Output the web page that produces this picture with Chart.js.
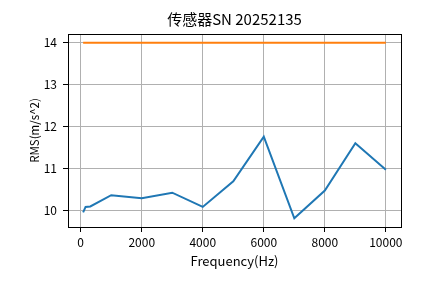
<!DOCTYPE html>
<html>
<head>
<meta charset="utf-8">
<script src="https://cdn.jsdelivr.net/npm/chart.js@4"></script>
<style>
  html, body { margin: 0; padding: 0; background: #fff; }
  #wrap { width: 445px; height: 283px; }
</style>
</head>
<body>
<div id="wrap"><canvas id="chart"></canvas></div>
<script>
const title = '传感器SN 20252135';
const xLabel = 'Frequency(Hz)';
const yLabel = 'RMS(m/s^2)';

const frequency = [80, 160, 315, 1000, 2000, 3000, 4000, 5000, 6000, 7000, 8000, 9000, 10000];
const rms = [9.95, 10.08, 10.09, 10.36, 10.29, 10.42, 10.08, 10.69, 11.76, 9.81, 10.47, 11.60, 10.97];
const limitFrequency = [80, 10000];
const limitValue = [14, 14];

const xTicks = [0, 2000, 4000, 6000, 8000, 10000];
const yTicks = [10, 11, 12, 13, 14];

const font = 'Noto Sans CJK SC';

// matplotlib-like 5% margins
const pad = (lo, hi) => [lo - (hi - lo) * 0.05, hi + (hi - lo) * 0.05];
const allX = frequency.concat(limitFrequency);
const allY = rms.concat(limitValue);
const [xMin, xMax] = pad(Math.min(...allX), Math.max(...allX));
const [yMin, yMax] = pad(Math.min(...allY), Math.max(...allY));

const frameBox = {
    id: 'frameBox',
    afterDraw(chart) {
        const { ctx, chartArea: a } = chart;
        ctx.save();
        ctx.strokeStyle = '#000';
        ctx.lineWidth = 1;
        ctx.strokeRect(Math.round(a.left) + 0.5, Math.round(a.top) + 0.5,
            Math.round(a.right - a.left), Math.round(a.bottom - a.top));
        ctx.restore();
    }
};

new Chart(document.getElementById('chart'), {
    type: 'scatter',
    data: {
        datasets: [{
            data: frequency.map((f, i) => ({ x: f, y: rms[i] })),
            showLine: true,
            borderColor: '#1f77b4',
            borderWidth: 2,
            pointRadius: 0,
            order: 2
        }, {
            data: limitFrequency.map((f, i) => ({ x: f, y: limitValue[i] })),
            showLine: true,
            borderColor: '#ff7f0e',
            borderWidth: 2,
            pointRadius: 0,
            order: 1
        }]
    },
    options: {
        responsive: true,
        maintainAspectRatio: false,
        animation: false,
        layout: { padding: { left: 0, right: 44, top: 0, bottom: 0 } },
        plugins: {
            legend: { display: false },
            tooltip: { enabled: false },
            title: {
                display: true,
                fullSize: false,
                text: title,
                color: '#000',
                font: { family: font, size: 15, weight: 'normal' },
                padding: { top: 10, bottom: 6 }
            }
        },
        scales: {
            x: {
                type: 'linear',
                min: xMin,
                max: xMax,
                afterBuildTicks: s => { s.ticks = xTicks.map(v => ({ value: v })); },
                afterFit: s => { s.height = 56; },
                grid: { color: '#b0b0b0', tickColor: '#000', tickLength: 5, lineWidth: 1 },
                border: { color: '#000' },
                ticks: {
                    color: '#000', font: { family: font, size: 12 }, padding: 3, maxRotation: 0,
                    callback: v => String(v)
                },
                title: {
                    display: true, text: xLabel, color: '#000',
                    font: { family: font, size: 13 }, padding: { top: 0, bottom: 14 }
                }
            },
            y: {
                type: 'linear',
                min: yMin,
                max: yMax,
                afterBuildTicks: s => { s.ticks = yTicks.map(v => ({ value: v })); },
                afterFit: s => { s.width = 68; },
                grid: { color: '#b0b0b0', tickColor: '#000', tickLength: 5, lineWidth: 1 },
                border: { color: '#000' },
                ticks: { color: '#000', font: { family: font, size: 12 }, padding: 6, callback: v => String(v) },
                title: {
                    display: true, text: yLabel, color: '#000',
                    font: { family: font, size: 11.5 }, padding: { top: 28, bottom: 0 }
                }
            }
        }
    },
    plugins: [frameBox]
});
</script>
</body>
</html>
